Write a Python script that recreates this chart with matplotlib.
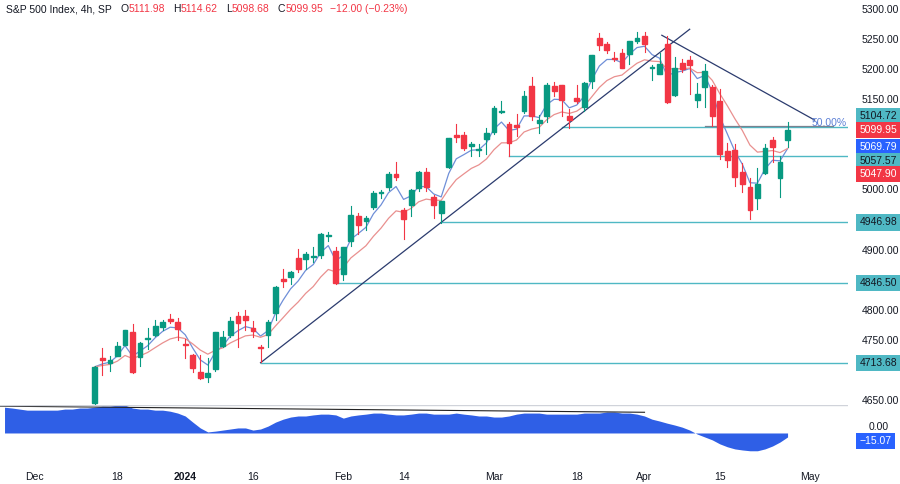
import numpy as np
import matplotlib.pyplot as plt
from matplotlib.patches import Rectangle

plt.rcParams['font.family'] = ['Liberation Sans', 'DejaVu Sans']

# daily candles Dec 13 2023 .. Apr 26 2024 (open, high, low, close)
opens = [4646, 4721, 4714, 4725, 4743, 4764, 4724, 4753, 4759, 4773, 4786, 4782,
         4745, 4726, 4698, 4690, 4703, 4741, 4760, 4792, 4791, 4772, 4740, 4760, 4797,
         4853, 4856, 4888, 4886, 4889, 4892, 4925, 4899,
         4862, 4916, 4957, 4950, 4973, 4995, 5005, 5027, 4967, 4976, 5004, 5031, 4989,
         4963, 5039, 5093, 5093, 5074, 5067, 5085,
         5098, 5131, 5110, 5109, 5132, 5173, 5112, 5124, 5173, 5176, 5124, 5154, 5139,
         5182, 5254, 5243, 5220, 5228, 5227, 5248,
         5257, 5204, 5194, 5244, 5158, 5212, 5217, 5150, 5172, 5172, 5149, 5065, 5068,
         5031, 5006, 4988, 5029, 5084, 5020, 5084]
highs = [4709, 4739, 4725, 4749, 4768, 4778, 4748, 4772, 4784, 4785, 4794, 4788,
         4754, 4729, 4727, 4721, 4764, 4766, 4790, 4798, 4802, 4783, 4744, 4785, 4842,
         4869, 4866, 4903, 4898, 4906, 4929, 4931, 4906,
         4906, 4975, 4963, 4957, 4999, 5000, 5030, 5048, 4971, 5002, 5033, 5038, 4993,
         4983, 5087, 5111, 5097, 5081, 5077, 5104,
         5140, 5149, 5114, 5127, 5165, 5189, 5125, 5179, 5180, 5176, 5136, 5175, 5180,
         5226, 5262, 5246, 5230, 5235, 5249, 5264,
         5263, 5209, 5228, 5256, 5222, 5219, 5224, 5178, 5211, 5175, 5168, 5079, 5077,
         5046, 5020, 5038, 5077, 5089, 5057, 5114]
lows = [4643, 4694, 4700, 4725, 4743, 4697, 4708, 4737, 4758, 4768, 4780, 4751,
        4722, 4699, 4687, 4682, 4700, 4740, 4757, 4740, 4768, 4757, 4715, 4740, 4785,
        4840, 4845, 4865, 4870, 4881, 4887, 4916, 4845,
        4852, 4907, 4928, 4934, 4969, 4987, 5000, 5017, 4920, 4958, 4999, 4999, 4955,
        4946, 5038, 5081, 5068, 5058, 5058, 5061,
        5094, 5128, 5057, 5091, 5128, 5117, 5095, 5114, 5157, 5123, 5104, 5145, 5132,
        5171, 5234, 5229, 5216, 5203, 5210, 5245,
        5230, 5184, 5194, 5146, 5157, 5197, 5160, 5138, 5138, 5108, 5052, 5039, 5007,
        4998, 4953, 4969, 5028, 5047, 4990, 5073]
closes = [4707, 4719, 4719, 4741, 4768, 4698, 4746, 4755, 4775, 4782, 4783, 4770,
          4743, 4705, 4689, 4697, 4764, 4757, 4783, 4780, 4784, 4766, 4739, 4781, 4840,
          4850, 4865, 4869, 4894, 4891, 4928, 4925, 4846,
          4906, 4959, 4943, 4954, 4995, 4998, 5027, 5022, 4953, 5000, 5030, 5006, 4976,
          4982, 5087, 5089, 5070, 5078, 5069, 5096,
          5137, 5131, 5079, 5105, 5157, 5124, 5117, 5175, 5165, 5150, 5117, 5149, 5179,
          5225, 5241, 5234, 5218, 5204, 5248, 5254,
          5243, 5205, 5211, 5147, 5204, 5202, 5209, 5161, 5199, 5123, 5061, 5051, 5022,
          5011, 4967, 5011, 5071, 5072, 5048, 5100]

# oscillator read per trading day, starting 12 days before Dec 13
osc = [97, 94, 90, 86, 86, 86, 86, 86, 90, 90, 94, 94,
       97, 101, 101, 105, 105, 94, 90, 90, 86, 86, 82, 75, 64, 41, 19, 4, 7, 11, 15, 19,
       19, 11, 15, 26, 41, 52, 60, 64, 64, 68, 71, 71, 68, 56, 64, 68, 71, 75, 75, 71,
       68, 68, 71, 75, 75, 71, 71, 71, 75, 71, 68, 64, 64, 60, 60, 64, 71, 75, 75, 75,
       71, 71, 71, 71, 71, 75, 75, 75, 79, 79, 75, 75, 71, 64, 52, 45, 37, 30, 22, 11,
       -4, -15, -26, -41, -52, -60, -64, -67, -67, -60, -49, -34, -15]

tick_pos = [-8, 3, 12, 21, 33, 41, 53, 64, 73, 83, 95]
tick_lab = ["Dec", "18", "2024", "16", "Feb", "14", "Mar", "18", "Apr", "15", "May"]
levels = [4713.68, 4846.50, 4946.98, 5057.57, 5104.72]
level_start = [22, 32, 46, 55, 62]

GREEN, RED = "#089981", "#f23645"
TEAL, NAVY, BLUE = "#4fb8c4", "#2b3b6e", "#2962ff"
YLO, YHI = 4643.3, 5316.6
FS = 7.5

o, h, l, c = map(np.array, (opens, highs, lows, closes))
idx = np.arange(len(c))


def ema(x, n):
    a = 2 / (n + 1)
    out = [x[0]]
    for v in x[1:]:
        out.append(a * v + (1 - a) * out[-1])
    return np.array(out)


def yfig(p):
    return (p - YLO) / (YHI - YLO) * 0.837 + 0.163


fig = plt.figure(figsize=(9, 4.84), dpi=100)
ax = fig.add_axes([0, 0.163, 0.942, 0.837])
ax2 = fig.add_axes([0, 0.05, 0.942, 0.113], sharex=ax)

for i in idx:
    col = GREEN if c[i] >= o[i] else RED
    ax.plot([i, i], [l[i], h[i]], color=col, lw=0.8, zorder=3)
    ax.add_patch(Rectangle((i - 0.32, min(o[i], c[i])), 0.64,
                           max(abs(c[i] - o[i]), 0.8), color=col, zorder=4))

ax.plot(idx, ema(c, 4), color="#6f8fd8", lw=0.9, zorder=2)
ax.plot(idx, ema(c, 10), color="#e9908f", lw=0.9, zorder=2)

xr = 101
for lv, s in zip(levels, level_start):
    ax.plot([s, xr], [lv, lv], color=TEAL, lw=1.0, zorder=1)
ax.plot([22, 79], [4713.68, 5268], color=NAVY, lw=0.9)
ax.plot([75.3, 95.6], [5258, 5117], color=NAVY, lw=0.9)
ax.plot([81, 98], [5108, 5108], color="#7a8290", lw=0.9)
ax.text(95.2, 5112, "50.00%", color="#5b7fd6", fontsize=FS, va="center")

ax.set_xlim(-12.6, 100)
ax.set_ylim(YLO, YHI)
for s in ax.spines.values():
    s.set_visible(False)
ax.tick_params(left=False, bottom=False, labelbottom=False, labelleft=False)

# tags: price where the box sits, text, colours
tags = [(5123.8, "5104.72", TEAL, "#131722"), (5100.5, "5099.95", RED, "white"),
        (5072.2, "5069.79", BLUE, "white"), (5049, "5057.57", TEAL, "#131722"),
        (5027.4, "5047.90", RED, "white")]
tags += [(lv, f"{lv:.2f}", TEAL, "#131722") for lv in levels[:3]]

# right price scale, hidden where a tag sits
for p in range(4650, 5301, 50):
    if any(abs(p - t[0]) < 18 for t in tags):
        continue
    fig.text(0.957, yfig(p), f"{p:.2f}", fontsize=FS, color="#131722", va="center")

for p, txt, bg, fg in tags:
    fig.text(0.955, yfig(p), txt, fontsize=FS, color=fg, va="center",
             bbox=dict(boxstyle="square,pad=0.3", fc=bg, ec="none"))

ox = np.arange(-12, -12 + len(osc))
ax2.fill_between(ox, osc, 0, color="#2f5fe6", lw=0)
ax2.plot([-12.6, 73], [101, 78], color="#222", lw=0.8)
ax2.set_ylim(-101, 105)
ax2.axhline(105, color="#d0d3da", lw=1)
for s in ax2.spines.values():
    s.set_visible(False)
ax2.tick_params(left=False, bottom=False, labelleft=False)
ax2.set_xticks(tick_pos)
ax2.set_xticklabels(tick_lab, fontsize=FS, color="#131722")
for t in ax2.get_xticklabels():
    if t.get_text() == "2024":
        t.set_fontweight("bold")
ax2.tick_params(axis="x", pad=5)
fig.text(0.965, 1 - 427 / 484, "0.00", fontsize=FS, color="#131722", va="center")
fig.text(0.955, 1 - 441 / 484, "−15.07", fontsize=FS, color="white", va="center",
         bbox=dict(boxstyle="square,pad=0.3", fc=BLUE, ec="none"))

# header, pieces chained one after another
hy = 1 - 9 / 484
prev = fig.text(6 / 900, hy, "S&P 500 Index, 4h, SP", fontsize=FS,
                color="#131722", va="center")
pieces = [("O", "#131722", 6), ("5111.98", RED, 0), ("H", "#131722", 6),
          ("5114.62", RED, 0), ("L", "#131722", 6), ("5098.68", RED, 0),
          ("C", "#131722", 6), ("5099.95", RED, 0), ("−12.00 (−0.23%)", RED, 5)]
for txt, col, gap in pieces:
    prev = fig.add_artist(plt.Annotation(txt, xy=(1, 0.5), xycoords=prev,
                                         xytext=(gap, 0), textcoords="offset points",
                                         fontsize=FS, color=col, va="center"))

fig.savefig("out.png", dpi=100)
